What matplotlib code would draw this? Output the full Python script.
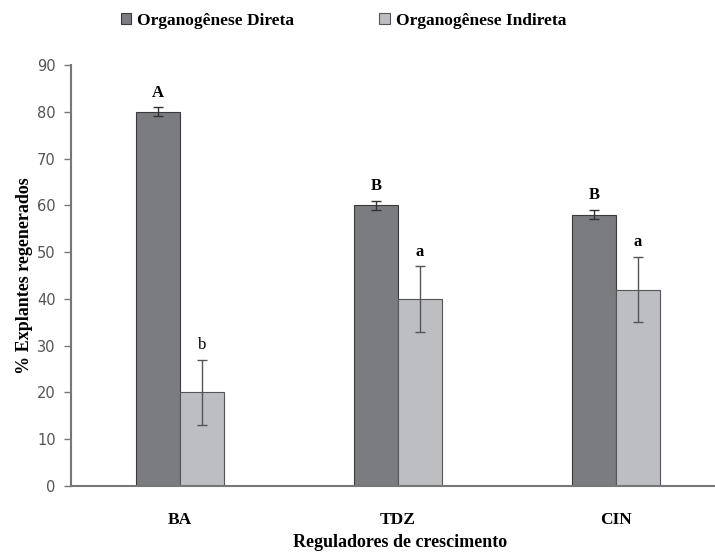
import numpy as np
import matplotlib.pyplot as plt
from matplotlib.patches import Patch

# data
categories = ['BA', 'TDZ', 'CIN']
series_names = ['Organogênese Direta', 'Organogênese Indireta']
direta = [80, 60, 58]
direta_err = [1, 1, 1]
indireta = [20, 40, 42]
indireta_err = [7, 7, 7]
letters_direta = ['A', 'B', 'B']
letters_indireta = ['b', 'a', 'a']
yticks = [0, 10, 20, 30, 40, 50, 60, 70, 80, 90]

dark = '#7b7c80'
light = '#bdbec2'
edge = '#3a3a3a'
serif = 'Liberation Serif'

fig = plt.figure(figsize=(7.15, 5.53), dpi=100)
ax = fig.add_axes([0.0993, 0.1212, 0.9007, 0.7613])

x = np.arange(len(categories))
w = 0.202
err_kw = dict(ecolor='#333333', elinewidth=1, capsize=3.5, capthick=1)

ax.bar(x - w / 2, direta, w, yerr=direta_err, color=dark, edgecolor=edge,
       linewidth=0.8, error_kw=err_kw)
ax.bar(x + w / 2, indireta, w, yerr=indireta_err, color=light, edgecolor='#555555',
       linewidth=0.8, error_kw=dict(err_kw, ecolor='#555555'))

for i in range(len(categories)):
    ax.text(x[i] - w / 2, direta[i] + direta_err[i] + 1.4, letters_direta[i],
            ha='center', va='bottom', fontsize=12, fontweight='bold', family=serif)
    wt = 'normal' if letters_indireta[i] == 'b' else 'bold'
    ax.text(x[i] + w / 2, indireta[i] + indireta_err[i] + 1.4, letters_indireta[i],
            ha='center', va='bottom', fontsize=12, fontweight=wt, family=serif)

ax.set_xlim(-0.5, 2.454)
ax.set_ylim(0, 90)
ax.set_yticks(yticks)
ax.set_xticks(x)
ax.set_xticklabels(categories, fontsize=12.5, fontweight='bold', family=serif)
ax.tick_params(axis='x', length=0, pad=19)
ax.tick_params(axis='y', length=5, width=1, color='#777777', labelcolor='#555555',
               labelsize=10.5, pad=6)

for s in ['top', 'right']:
    ax.spines[s].set_visible(False)
for s in ['left', 'bottom']:
    ax.spines[s].set_color('#777777')
    ax.spines[s].set_linewidth(1.5)

ax.set_ylabel('% Explantes regenerados', fontsize=13, fontweight='bold',
              family=serif, labelpad=3)
ax.set_xlabel('Reguladores de crescimento', fontsize=13, fontweight='bold',
              family=serif, va='center')
ax.xaxis.set_label_coords(0.511, -0.135)

handles = [Patch(facecolor=dark, edgecolor=edge, linewidth=0.8),
           Patch(facecolor=light, edgecolor='#555555', linewidth=0.8)]
fig.legend(handles, series_names, loc='upper left', bbox_to_anchor=(0.147, 1.005),
           ncol=2, frameon=False, handlelength=0.6, handleheight=0.6,
           handletextpad=0.35, columnspacing=4.9,
           prop=dict(family=serif, weight='bold', size=12.5))

fig.savefig('out.png', dpi=100)
